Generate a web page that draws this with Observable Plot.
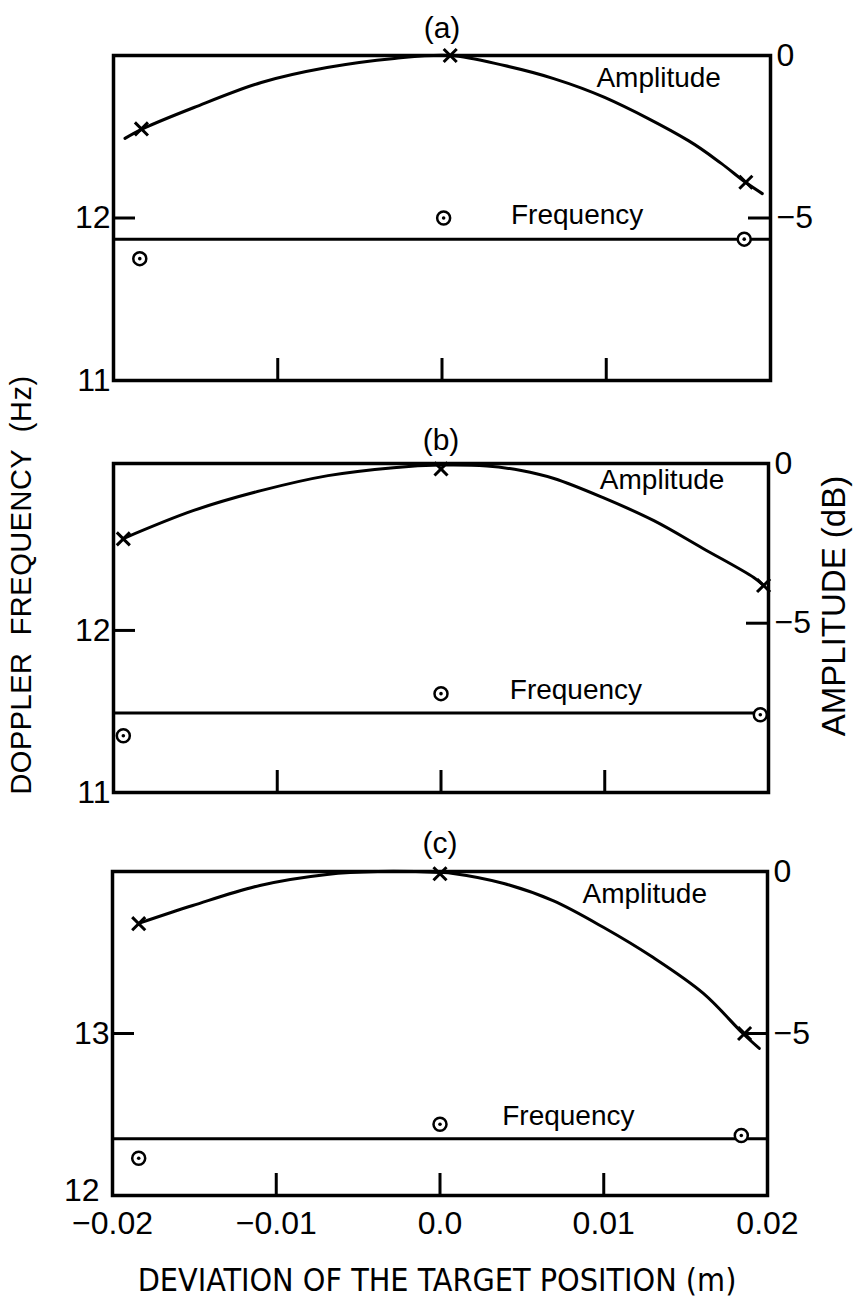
<!DOCTYPE html>
<html>
<head>
<meta charset="utf-8">
<script src="https://cdn.jsdelivr.net/npm/d3@7"></script>
<script src="https://cdn.jsdelivr.net/npm/@observablehq/plot@0.6"></script>
<style>
  html, body { margin: 0; padding: 0; background: #fff; }
  #figure { position: relative; width: 853px; height: 1301px; overflow: hidden;
            font-family: "Liberation Sans", Arial, sans-serif; color: #000; }
  #figure svg { position: absolute; left: 0; overflow: visible; }
  .ytitle { position: absolute; white-space: pre; line-height: 1;
            transform: translate(-50%, -50%) rotate(-90deg); }
</style>
</head>
<body>
<div id="figure"></div>
<script>
// Shared axes
const xTicks = [-0.02, -0.01, 0, 0.01, 0.02];
const xTickLabels = ["\u22120.02", "\u22120.01", "0.0", "0.01", "0.02"];
const innerXTicks = [-0.01, 0, 0.01];
const ampTicks = [0, -5];
const ampTickLabels = ["0", "\u22125"];

// Panel (a)
const freqTicksA = [11, 12];
const ampMarkXA = [-0.0183, 0.0005, 0.0185];
const ampMarkDbA = [-2.26, 0, -3.90];
const freqMarkXA = [-0.0184, 0.0001, 0.0184];
const freqMarkHzA = [11.75, 12.0, 11.87];
const freqMeanA = 11.87;
const ampCurveXA = [-0.0193, -0.0182, -0.0151, -0.0110, -0.0070, -0.0029, 0.0005, 0.0038, 0.0068, 0.0099, 0.0150, 0.0170, 0.0185, 0.0195];
const ampCurveDbA = [-2.55, -2.25, -1.60, -0.83, -0.37, -0.09, 0, -0.31, -0.71, -1.29, -2.62, -3.32, -3.91, -4.25];

// Panel (b)
const freqTicksB = [11, 12];
const ampMarkXB = [-0.0194, 0.0, 0.0197];
const ampMarkDbB = [-2.36, -0.17, -3.82];
const freqMarkXB = [-0.0194, 0.0, 0.0195];
const freqMarkHzB = [11.35, 11.61, 11.48];
const freqMeanB = 11.49;
const ampCurveXB = [-0.0194, -0.0151, -0.0110, -0.0069, -0.0029, 0.0, 0.0028, 0.0049, 0.0069, 0.0099, 0.0130, 0.0160, 0.0191, 0.0197];
const ampCurveDbB = [-2.35, -1.47, -0.85, -0.38, -0.13, -0.05, -0.08, -0.22, -0.47, -1.07, -1.79, -2.66, -3.57, -3.82];

// Panel (c)
const freqTicksC = [12, 13];
const ampMarkXC = [-0.0184, 0.0, 0.0186];
const ampMarkDbC = [-1.61, -0.07, -5.0];
const freqMarkXC = [-0.0184, 0.0, 0.0184];
const freqMarkHzC = [12.23, 12.44, 12.37];
const freqMeanC = 12.35;
const ampCurveXC = [-0.0184, -0.0151, -0.0110, -0.0069, -0.0038, 0.0, 0.0008, 0.0039, 0.0069, 0.0100, 0.0130, 0.0161, 0.0185, 0.0195];
const ampCurveDbC = [-1.60, -1.05, -0.43, -0.09, 0, -0.03, -0.06, -0.37, -0.90, -1.73, -2.65, -3.77, -5.0, -5.46];

const WIDTH = 853;
const FONT = '"Liberation Sans", Arial, sans-serif';
const NARROW = '"Liberation Sans Narrow", "DejaVu Sans Condensed", "Liberation Sans", sans-serif';

const panels = [
  {title: "(a)", top: 0, height: 410, mt: 55, mb: 30, ml: 113, mr: 83, titleDy: -27,
   hz: [11, 13], db: [-10, 0], freqTicks: freqTicksA,
   ampX: ampMarkXA, ampDb: ampMarkDbA, freqX: freqMarkXA, freqHz: freqMarkHzA, freqMean: freqMeanA,
   curveX: ampCurveXA, curveDb: ampCurveDbA,
   ampText: [0.0094, -0.68], freqText: [0.0042, 12.02], xAxis: false},
  {title: "(b)", top: 410, height: 405, mt: 53, mb: 23, ml: 113, mr: 85, titleDy: -23,
   hz: [11, 13.03], db: [-10.3, 0], freqTicks: freqTicksB,
   ampX: ampMarkXB, ampDb: ampMarkDbB, freqX: freqMarkXB, freqHz: freqMarkHzB, freqMean: freqMeanB,
   curveX: ampCurveXB, curveDb: ampCurveDbB,
   ampText: [0.0097, -0.53], freqText: [0.0042, 11.63], xAxis: false},
  {title: "(c)", top: 815, height: 486, mt: 56, mb: 106, ml: 112, mr: 86, titleDy: -28,
   hz: [12, 14], db: [-10, 0], freqTicks: freqTicksC,
   ampX: ampMarkXC, ampDb: ampMarkDbC, freqX: freqMarkXC, freqHz: freqMarkHzC, freqMean: freqMeanC,
   curveX: ampCurveXC, curveDb: ampCurveDbC,
   ampText: [0.0087, -0.68], freqText: [0.0038, 12.49], xAxis: true}
];

const figure = document.getElementById("figure");
const xLabelOf = new Map(xTicks.map((t, i) => [t, xTickLabels[i]]));

function drawPanel(p) {
  // the amplitude (dB) axis on the right shares the frame with the frequency axis on the left
  const toHz = db => p.hz[0] + (db - p.db[0]) / (p.db[1] - p.db[0]) * (p.hz[1] - p.hz[0]);
  const innerW = WIDTH - p.ml - p.mr;
  const innerH = p.height - p.mt - p.mb;
  const curve = p.curveX.map((x, i) => ({x, y: toHz(p.curveDb[i])}));
  const amps = p.ampX.map((x, i) => ({x, y: toHz(p.ampDb[i])}));
  const freqs = p.freqX.map((x, i) => ({x, y: p.freqHz[i]}));
  const ampTickHz = ampTicks.map(toHz);
  const ampLabelOf = new Map(ampTickHz.map((h, i) => [h, ampTickLabels[i]]));
  const tick = 22, sw = 3;

  const marks = [
    Plot.ruleY([p.freqMean], {strokeWidth: sw}),
    Plot.line(curve, {x: "x", y: "y", curve: "catmull-rom", strokeWidth: sw}),
    Plot.tickX(innerXTicks, {x: d => d, insetTop: innerH - tick, strokeWidth: sw}),
    Plot.tickY([p.freqTicks[1]], {y: d => d, insetRight: innerW - tick, strokeWidth: sw}),
    Plot.tickY([ampTickHz[1]], {y: d => d, insetLeft: innerW - tick, strokeWidth: sw}),
    Plot.frame({strokeWidth: 3.5}),
    // upper frequency label sits normally; the lowest one is nudged off the corner
    Plot.axisY([p.freqTicks[1]], {anchor: "left", label: null, tickSize: 0, tickPadding: 3, tickFormat: d => String(d)}),
    Plot.axisY([p.freqTicks[0]], {anchor: "left", label: null, tickSize: 0, tickPadding: 3,
      dx: p.xAxis ? -10 : 0, dy: p.xAxis ? -5 : 0, tickFormat: d => String(d)}),
    Plot.axisY(ampTickHz, {anchor: "right", label: null, tickSize: 0, tickPadding: 6, tickFormat: d => ampLabelOf.get(d)}),
    Plot.dot(amps, {x: "x", y: "y", symbol: "times", r: 6, stroke: "black", strokeWidth: 3}),
    Plot.dot(freqs, {x: "x", y: "y", r: 6.5, fill: "white", stroke: "black", strokeWidth: 2.5}),
    Plot.dot(freqs, {x: "x", y: "y", r: 1.8, fill: "black"}),
    Plot.text(["Amplitude"], {x: () => p.ampText[0], y: () => toHz(p.ampText[1]), textAnchor: "start", fontSize: 28}),
    Plot.text(["Frequency"], {x: () => p.freqText[0], y: () => p.freqText[1], textAnchor: "start", fontSize: 28}),
    Plot.text([p.title], {frameAnchor: "top", lineAnchor: "middle", dy: p.titleDy, fontSize: 30})
  ];
  if (p.xAxis) {
    marks.push(Plot.axisX(xTicks, {label: null, tickSize: 0, tickPadding: 16, tickFormat: d => xLabelOf.get(d)}));
    marks.push(Plot.text(["DEVIATION OF THE TARGET POSITION (m)"],
      {frameAnchor: "bottom", lineAnchor: "middle", dx: -3, dy: 85, fontSize: 32, fontFamily: NARROW}));
  }

  const svg = Plot.plot({
    width: WIDTH,
    height: p.height,
    marginTop: p.mt, marginBottom: p.mb, marginLeft: p.ml, marginRight: p.mr,
    style: {fontSize: "32px", fontFamily: FONT, color: "black", background: "transparent", overflow: "visible"},
    x: {type: "linear", domain: [xTicks[0], xTicks[xTicks.length - 1]], axis: p.xAxis ? undefined : null},
    y: {type: "linear", domain: p.hz},
    marks
  });
  svg.style.top = p.top + "px";
  figure.appendChild(svg);
}

panels.forEach(drawPanel);

// vertical axis titles shared by the three panels
function yTitle(text, cx, cy, size, extra) {
  const div = document.createElement("div");
  div.className = "ytitle";
  div.textContent = text;
  div.style.left = cx + "px";
  div.style.top = cy + "px";
  div.style.fontSize = size + "px";
  Object.assign(div.style, extra || {});
  figure.appendChild(div);
}
yTitle("DOPPLER  FREQUENCY  (Hz)", 21, 585, 29, {letterSpacing: "0.5px"});
yTitle("AMPLITUDE (dB)", 833, 606, 33);
</script>
</body>
</html>
